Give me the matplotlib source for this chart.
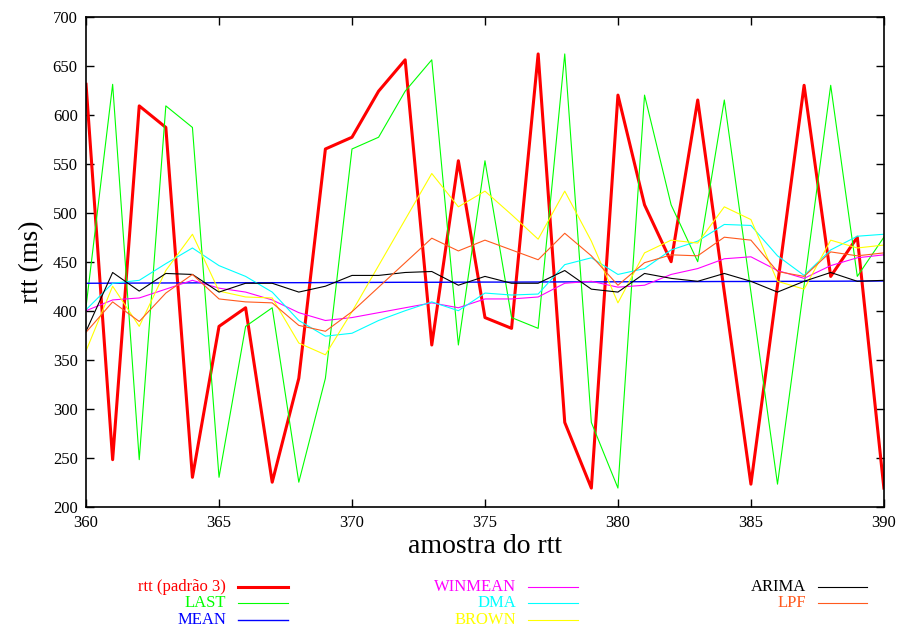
import numpy as np
import matplotlib
matplotlib.use("Agg")
import matplotlib.pyplot as plt
from matplotlib.lines import Line2D

plt.rcParams['font.family'] = ['Liberation Serif', 'DejaVu Serif']

# amostras 360..390
amostra = np.arange(360, 391)

rtt = [631, 248, 609, 587, 230, 384, 403, 225, 331, 565, 577,
       624, 656, 365, 553, 393, 382, 662, 286, 219, 620,
       508, 450, 615, 419, 223, 426, 630, 435, 475, 219]
last = [404, 631, 248, 609, 587, 230, 384, 403, 225, 331, 565,
        577, 624, 656, 365, 553, 393, 382, 662, 286, 219,
        620, 508, 450, 615, 419, 223, 426, 630, 435, 475]
mean = [428.0, 428.1, 428.2, 428.3, 428.4, 428.5, 428.5, 428.6, 428.6, 428.7, 428.8,
        428.9, 429.0, 429.0, 429.1, 429.2, 429.2, 429.3, 429.4, 429.4, 429.5,
        429.6, 429.6, 429.7, 429.8, 429.8, 429.9, 430.0, 430.1, 430.2, 430.3]
winmean = [400, 411, 413, 422, 431, 423, 419, 411, 398, 390, 393,
           398, 403, 408, 403, 412, 412, 414, 428, 430, 424,
           426, 437, 443, 453, 455, 441, 433, 446, 454, 457]
dma = [401, 428, 431, 448, 464, 446, 435, 419, 390, 374, 377,
       390, 400, 409, 400, 418, 416, 417, 447, 454, 437,
       443, 462, 471, 488, 487, 456, 436, 462, 476, 478]
brown = [359, 425, 384, 441, 478, 420, 414, 413, 367, 355, 399,
         446, 493, 540, 506, 522, 498, 473, 522, 471, 408,
         459, 472, 469, 506, 493, 430, 422, 472, 464, 467]
arima = [379, 439, 420, 438, 437, 419, 428, 428, 419, 425, 436,
         436, 439, 440, 426, 435, 428, 428, 441, 422, 419,
         438, 433, 430, 438, 430, 419, 430, 439, 430, 431]
lpf = [378, 409, 389, 418, 437, 412, 409, 408, 385, 379, 399,
       424, 449, 474, 461, 472, 462, 452, 479, 456, 426,
       449, 457, 456, 475, 472, 440, 435, 460, 456, 459]

series = [
    ("rtt (padrão 3)", rtt, "#ff0000", 2.2),
    ("LAST", last, "#00ff00", 0.8),
    ("MEAN", mean, "#0000ff", 1.0),
    ("WINMEAN", winmean, "#ff00ff", 0.8),
    ("DMA", dma, "#00ffff", 0.8),
    ("BROWN", brown, "#ffff00", 0.8),
    ("ARIMA", arima, "#000000", 0.8),
    ("LPF", lpf, "#ff5a1e", 0.8),
]

fig = plt.figure(figsize=(9.01, 6.30), dpi=100)
ax = fig.add_axes([0.0955, 0.1957, 0.8855, 0.7778])

for label, vals, color, lw in series:
    ax.plot(amostra, vals, color=color, linewidth=lw, label=label)

ax.set_xlim(360, 390)
ax.set_ylim(200, 700)
ax.set_xticks(np.arange(360, 391, 5))
ax.set_yticks(np.arange(200, 701, 50))
ax.tick_params(direction='in', length=6, width=1, top=True, right=True,
               labelsize=12, pad=6)
for s in ax.spines.values():
    s.set_linewidth(1.2)
ax.set_xlabel("amostra do rtt", fontsize=20, labelpad=2)
ax.set_ylabel("rtt (ms)", fontsize=20, labelpad=6)

# legenda estilo gnuplot: texto alinhado a direita, amostra de linha ao lado
cols = [(226, 238, 288), (516, 528, 578), (806, 818, 867)]
rows = [587, 603, 620]
W, H = 901, 630
for k, (label, vals, color, lw) in enumerate(series):
    c, r = divmod(k, 3)
    xt, x0, x1 = cols[c]
    y = 1 - rows[r] / H
    fig.text(xt / W, y, label, ha='right', va='center', color=color, fontsize=12)
    fig.add_artist(Line2D([x0 / W, x1 / W], [y, y], transform=fig.transFigure,
                          color=color, linewidth=lw))

fig.savefig("out.png", dpi=100)
